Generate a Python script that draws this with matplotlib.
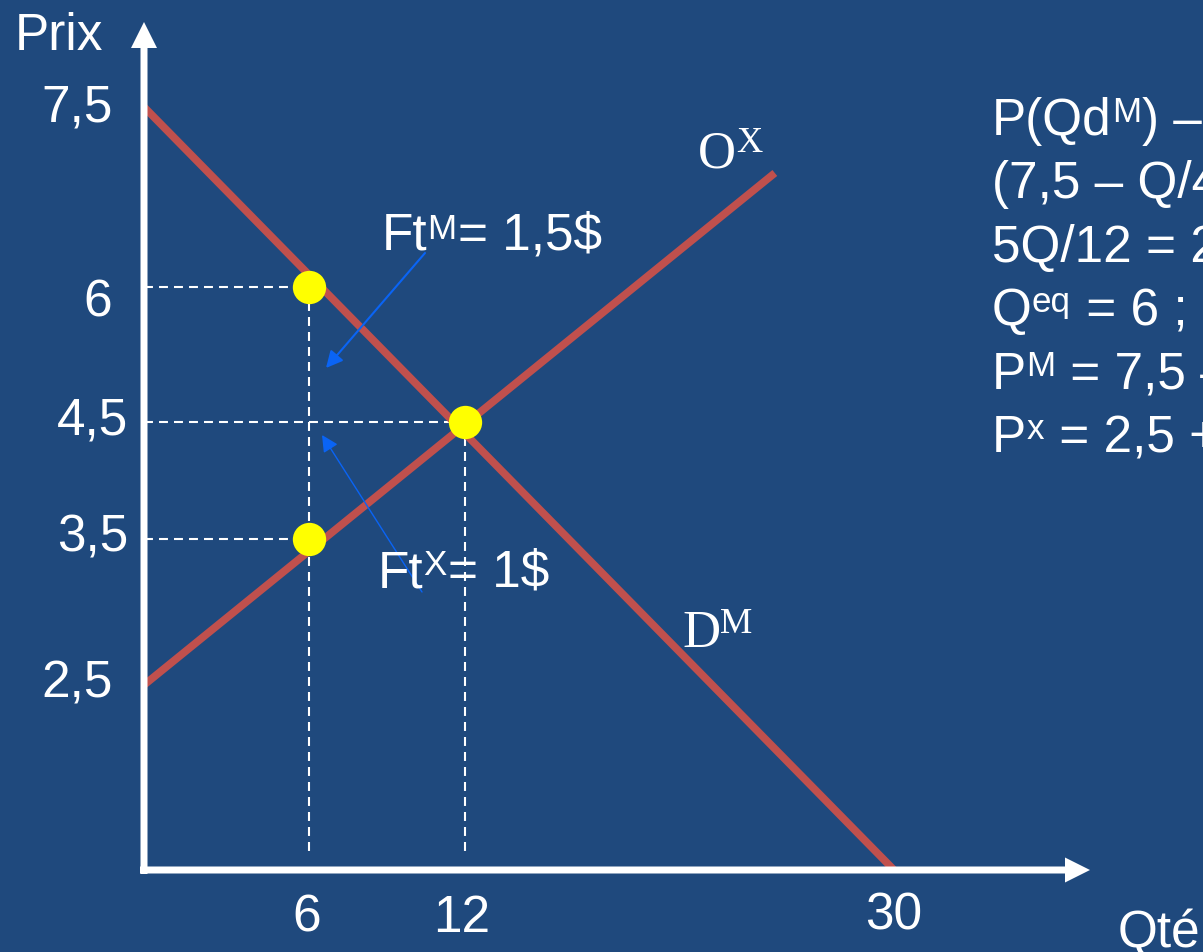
import re
import numpy as np
import matplotlib
matplotlib.use('Agg')
import matplotlib.pyplot as plt
import matplotlib.transforms as mtransforms
from matplotlib.patches import FancyArrow

W, H = 1203, 952
BG = '#1F497D'
RED = '#C0504D'
YELLOW = '#FFFF00'
BLUE = '#0A64F5'

# --- data -------------------------------------------------------------
q_ticks = [6, 12, 30]
q_labels = ['6', '12', '30']
p_ticks = [2.5, 3.5, 4.5, 6, 7.5]
p_labels = ['2,5', '3,5', '4,5', '6', '7,5']

demand_q = [0, 30]          # D^M : P = 7,5 - Q/4
demand_p = [7.5, 0]
supply_q = [0, 25]          # O^X
supply_p = [2.5, 6.95]

points_q = [6, 12, 6]
points_p = [6, 4.5, 3.5]

equations = [
    "P(Qd^{M}) – P(Qo^{X}) = Ft^{M} + Ft^{X}",
    "(7,5 – Q/4) – (2,5 + Q/6) = 2,5",
    "5Q/12 = 2,5",
    "Q^{eq} = 6 ;",
    "P^{M} = 7,5 – 6/4 = 6",
    "P^{x} = 2,5 + 6/6 = 3,5",
]

# --- layout (pixel positions of the schematic axes) --------------------
x_knot_px = [144, 309, 465, 894]                # Q = 0, 6, 12, 30
y_knot_px = [870, 685, 539, 422, 287, 107]      # P = 0, 2.5, ..., 7.5 (from top)
ylab_dx = [-31, -16, -16, -32, -31]
ylab_dy = [-13, -13, -13, -30, -15]
xlab_dx = [-2, -3, 0]
xlab_dy = [-62, -62, -60]
drop_end = 0.25

plt.rcParams['font.family'] = ['Liberation Sans', 'DejaVu Sans']
FS = 37


def piecewise(xp, fp):
    xp = np.asarray(xp, float)
    fp = np.asarray(fp, float)
    s0 = (fp[1] - fp[0]) / (xp[1] - xp[0])
    s1 = (fp[-1] - fp[-2]) / (xp[-1] - xp[-2])

    def f(v):
        v = np.asarray(v, float)
        out = np.interp(v, xp, fp)
        out = np.where(v < xp[0], fp[0] + (v - xp[0]) * s0, out)
        out = np.where(v > xp[-1], fp[-1] + (v - xp[-1]) * s1, out)
        return out
    return f


qk = [0] + q_ticks
pk = [0] + p_ticks
ypx = [H - y for y in y_knot_px]
fx, fx_inv = piecewise(qk, x_knot_px), piecewise(x_knot_px, qk)
fy, fy_inv = piecewise(pk, ypx), piecewise(ypx, pk)

fig = plt.figure(figsize=(W / 100, H / 100), dpi=100, facecolor=BG)
ax = fig.add_axes([0, 0, 1, 1])
ax.set_xscale('function', functions=(fx, fx_inv))
ax.set_yscale('function', functions=(fy, fy_inv))
ax.set_xlim(float(fx_inv(0)), float(fx_inv(W)))
ax.set_ylim(float(fy_inv(0)), float(fy_inv(H)))
ax.axis('off')

pix = mtransforms.Affine2D().scale(1 / fig.dpi) + fig.dpi_scale_trans
renderer = fig.canvas.get_renderer()

# axes with arrows
fig.patches.append(FancyArrow(144, H - 874, 0, 874 - 22, width=7, head_width=26,
                              head_length=26, length_includes_head=True,
                              color='white', lw=0, transform=pix, figure=fig))
fig.patches.append(FancyArrow(140, H - 870, 1090 - 140, 0, width=7, head_width=25,
                              head_length=25, length_includes_head=True,
                              color='white', lw=0, transform=pix, figure=fig))

# dashed guides
dash = dict(color='white', lw=1.5, dashes=(4.3, 2.9), zorder=2)
for q, p in zip(points_q, points_p):
    ax.plot([0, q], [p, p], **dash)
for q in sorted(set(points_q)):
    top = max(p for qq, p in zip(points_q, points_p) if qq == q)
    ax.plot([q, q], [top, drop_end], **dash)

# curves
ax.plot(demand_q, demand_p, color=RED, lw=5.5, solid_capstyle='butt', zorder=3)
ax.plot(supply_q, supply_p, color=RED, lw=5.5, solid_capstyle='butt', zorder=3)
ax.plot(points_q, points_p, 'o', ms=24, color=YELLOW, mec='none', zorder=4)

# tick labels
for v, lab, dx, dy in zip(p_ticks, p_labels, ylab_dx, ylab_dy):
    ax.annotate(lab, xy=(0, v), xytext=(dx, dy), textcoords='offset pixels',
                ha='right', va='baseline', color='white', fontsize=FS)
for v, lab, dx, dy in zip(q_ticks, q_labels, xlab_dx, xlab_dy):
    ax.annotate(lab, xy=(v, 0), xytext=(dx, dy), textcoords='offset pixels',
                ha='center', va='baseline', color='white', fontsize=FS)


def rich(x, y, s, size=FS, family='Liberation Sans', scale=0.68, lift=13):
    # text with ^{...} superscripts, x/y = left and baseline in pixels from top-left
    for i, part in enumerate(re.split(r'\^\{(.*?)\}', s)):
        if not part:
            continue
        sup = i % 2 == 1
        fs = size * scale if sup else size
        yy = y - lift if sup else y
        t = fig.text(x / W, 1 - yy / H, part, fontsize=fs, color='white',
                     family=family, ha='left', va='baseline')
        x = t.get_window_extent(renderer).x1 + (1 if sup else 0)


rich(15, 50, 'Prix')
rich(1118, 947, 'Qté')
rich(698, 167, 'O^{X}', size=38, family='Liberation Serif', scale=0.69, lift=15)
rich(682, 647, 'D^{M}', size=38, family='Liberation Serif', scale=0.69, lift=14)
rich(382, 250, 'Ft^{M}= 1,5$', lift=11)
rich(378, 587, 'Ft^{X}= 1$', lift=12)

for i, line in enumerate(equations):
    rich(992, 135 + 63.4 * i, line)

# annotation arrows
for (x0, y0), (x1, y1), lw in [((425, 253), (326, 368), 1.5),
                                ((422, 592), (322, 435), 1.0)]:
    ax.annotate('', xy=(x1, H - y1), xycoords='figure pixels',
                xytext=(x0, H - y0), textcoords='figure pixels',
                arrowprops=dict(arrowstyle='-|>,head_length=10,head_width=5',
                                mutation_scale=1, color=BLUE, lw=lw,
                                shrinkA=0, shrinkB=0))

fig.savefig('out.png', dpi=100, facecolor=BG)
